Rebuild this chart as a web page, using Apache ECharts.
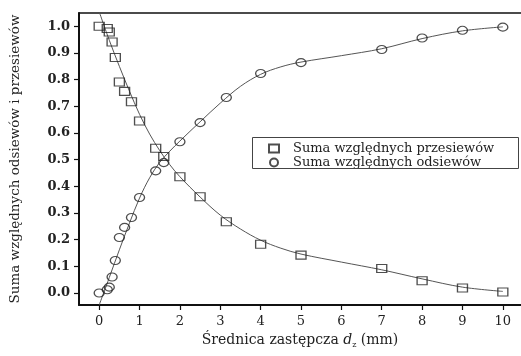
<!DOCTYPE html>
<html><head><meta charset="utf-8">
<script src="https://cdn.jsdelivr.net/npm/echarts@6/dist/echarts.min.js"></script>
<style>html,body{margin:0;padding:0;background:#fff}#c{width:521px;height:356px}</style>
</head><body><div id="c"></div>
<script>
// Sieve sizes (mm)
const sizes = [0, 0.2, 0.25, 0.32, 0.4, 0.5, 0.63, 0.8, 1.0, 1.4, 1.6, 2.0, 2.5, 3.15, 4, 5, 7, 8, 9, 10];
// Cumulative relative passing (squares)
const passing = [1.0, 0.992, 0.979, 0.941, 0.883, 0.791, 0.756, 0.717, 0.645, 0.543, 0.512, 0.436, 0.361, 0.267, 0.183, 0.142, 0.092, 0.046, 0.019, 0.004];
// Cumulative relative retained (circles)
const retained = [0.0, 0.012, 0.022, 0.06, 0.122, 0.208, 0.246, 0.283, 0.358, 0.458, 0.489, 0.567, 0.639, 0.733, 0.823, 0.864, 0.913, 0.956, 0.985, 0.997];
// Fitted curves
const fitX = [0, 0.25, 0.5, 0.75, 1.0, 1.25, 1.5, 1.75, 2.0, 2.5, 3.0, 3.5, 4.0, 4.5, 5.0, 6.0, 7.0, 8.0, 9.0, 10.0];
const passFitY = [1.055, 0.948, 0.850, 0.757, 0.670, 0.596, 0.534, 0.481, 0.436, 0.360, 0.292, 0.240, 0.198, 0.168, 0.146, 0.116, 0.087, 0.053, 0.022, 0.006];
const retFitY = [-0.045, 0.058, 0.162, 0.262, 0.356, 0.432, 0.490, 0.532, 0.570, 0.642, 0.712, 0.775, 0.820, 0.848, 0.866, 0.890, 0.916, 0.954, 0.983, 0.998];
// Tick values
const xTicks = [0, 1, 2, 3, 4, 5, 6, 7, 8, 9, 10];
const yTicks = [0, 0.1, 0.2, 0.3, 0.4, 0.5, 0.6, 0.7, 0.8, 0.9, 1.0];

const seriesNames = ['Suma względnych przesiewów', 'Suma względnych odsiewów'];
const xName = 'Średnica zastępcza {i|d}{s|z} (mm)';
const yName = 'Suma względnych odsiewów i przesiewów';

const FONT = 'DejaVu Serif';
const zip = (a, b) => a.map((v, i) => [v, b[i]]);

const chart = echarts.init(document.getElementById('c'), null, {renderer: 'canvas'});
chart.setOption({
  animation: false,
  backgroundColor: '#fff',
  grid: {left: 77, top: 13, right: 0, bottom: 51, show: false},
  xAxis: [{
    type: 'value', min: -0.5, max: 10.45,
    name: xName, nameLocation: 'middle', nameGap: 27,
    nameTextStyle: {fontFamily: FONT, fontSize: 14, color: '#222',
      rich: {i: {fontFamily: FONT, fontStyle: 'italic', fontSize: 14, color: '#222'},
             s: {fontFamily: FONT, fontSize: 8, color: '#222', padding: [9, 0, 0, 0]}}},
    axisLine: {show: true, onZero: false, lineStyle: {color: '#111', width: 2}},
    axisTick: {show: true, inside: false, length: 5, customValues: xTicks, lineStyle: {color: '#111', width: 1.2}},
    axisLabel: {customValues: xTicks, fontFamily: FONT, fontSize: 13, color: '#222', margin: 10},
    splitLine: {show: false}
  }, {
    type: 'value', position: 'top', min: -0.5, max: 10.45,
    axisLine: {show: true, onZero: false, lineStyle: {color: '#111', width: 1.5}},
    axisTick: {show: false}, axisLabel: {show: false}, splitLine: {show: false}
  }],
  yAxis: {
    type: 'value', min: -0.045, max: 1.05,
    name: yName, nameLocation: 'middle', nameGap: 57, nameRotate: 90,
    nameTextStyle: {fontFamily: FONT, fontSize: 13.5, color: '#222'},
    axisLine: {show: true, onZero: false, lineStyle: {color: '#111', width: 2}},
    axisTick: {show: true, inside: false, length: 5, customValues: yTicks, lineStyle: {color: '#111', width: 1.2}},
    axisLabel: {customValues: yTicks, fontFamily: FONT, fontSize: 13, fontWeight: 'bold', color: '#222', margin: 9,
      formatter: v => v.toFixed(1)},
    splitLine: {show: false}
  },
  legend: {
    orient: 'vertical', left: 264, top: 138, padding: [4, 4, 4, 4], itemGap: 1,
    itemWidth: 10, itemHeight: 8, data: seriesNames,
    textStyle: {fontFamily: FONT, fontSize: 13, color: '#222', lineHeight: 10, padding: [0, 0, 0, 9]}
  },
  graphic: [{type: 'rect', shape: {x: 252.5, y: 137.5, width: 266, height: 31}, style: {fill: 'none', stroke: '#444', lineWidth: 1}, z: 100}],
  series: [
    {type: 'line', data: zip(fitX, passFitY), smooth: 0.35, showSymbol: false, symbol: 'none',
     lineStyle: {color: '#555', width: 1}, z: 1, silent: true},
    {type: 'line', data: zip(fitX, retFitY), smooth: 0.35, showSymbol: false, symbol: 'none',
     lineStyle: {color: '#555', width: 1}, z: 1, silent: true},
    {name: seriesNames[0], type: 'scatter', data: zip(sizes, passing), symbol: 'rect', symbolSize: [10, 8],
     itemStyle: {color: 'rgba(255,255,255,0)', borderColor: '#222', borderWidth: 1.2}, z: 3},
    {name: seriesNames[1], type: 'scatter', data: zip(sizes, retained), symbol: 'circle', symbolSize: [10, 8],
     itemStyle: {color: 'rgba(255,255,255,0)', borderColor: '#222', borderWidth: 1.2}, z: 3}
  ]
});
</script></body></html>
